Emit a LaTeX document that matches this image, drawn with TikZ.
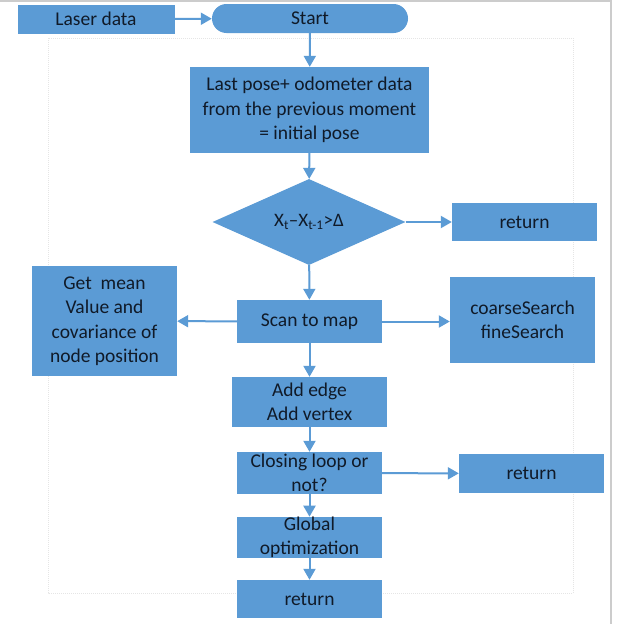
\documentclass[tikz,border=0pt]{standalone}
\usepackage{fontspec}
\setmainfont{Carlito}
\usetikzlibrary{arrows.meta,shapes.geometric}
\definecolor{boxblue}{HTML}{5B9BD5}
\definecolor{txt}{HTML}{101A28}
\begin{document}
\begin{tikzpicture}[x=1pt,y=-1pt,
  box/.style={rectangle,fill=boxblue,draw=none,text=txt,align=center,inner sep=0pt,
    font=\fontsize{19.5}{24.5}\selectfont},
  flow/.style={draw=boxblue,line width=2pt,-{Triangle[length=11pt,width=12pt]}}]
\useasboundingbox (0,0) rectangle (618,624);
\fill[white] (0,0) rectangle (618,624);
\draw[gray!40,line width=1.5pt] (0,1) -- (611,1) -- (611,624);
\draw[gray!20,line width=1pt,densely dotted] (48,38) rectangle (573,593);
% nodes
\node[box,minimum width=157pt,minimum height=29pt] (laser) at (96,19) {Laser data};
\node[box,minimum width=196pt,minimum height=29pt,rounded corners=14.5pt] (start) at (310,18.5) {Start};
\node[box,minimum width=239pt,minimum height=86pt] (pose) at (309.5,110) {Last pose+ odometer data\\from the previous moment\\= initial pose};
\node[diamond,fill=boxblue,text=txt,inner sep=0pt,minimum width=193pt,minimum height=86pt,
  font=\fontsize{19}{22}\selectfont] (dia) at (309,222) {X\textsubscript{t}–X\textsubscript{t-1}>Δ};
\node[box,minimum width=145pt,minimum height=38pt] (ret1) at (524.5,222) {return};
\node[box,minimum width=145pt,minimum height=110pt] (mean) at (104.5,321) {Get\ \ mean\\Value and\\covariance of\\node position};
\node[box,minimum width=145pt,minimum height=43pt] (scan) at (309.5,321.5) {Scan to map};
\node[box,minimum width=145pt,minimum height=86pt] (coarse) at (522.5,320) {coarseSearch\\fineSearch};
\node[box,minimum width=155pt,minimum height=50pt] (edge) at (309.5,402) {Add edge\\Add vertex};
\node[box,minimum width=145pt,minimum height=42pt] (loop) at (309.5,473) {Closing loop or\\not?};
\node[box,minimum width=145pt,minimum height=39pt] (ret2) at (531.5,473.5) {return};
\node[box,minimum width=145pt,minimum height=41pt] (glob) at (309.5,537.5) {Global\\optimization};
\node[box,minimum width=145pt,minimum height=38pt] (ret3) at (309.5,599) {return};
% connectors
\draw[flow] (laser) -- (start);
\draw[flow] (start) -- (pose);
\draw[flow] (pose) -- (dia);
\draw[flow] (dia) -- (ret1);
\draw[flow] (dia) -- (scan);
\draw[flow] (scan) -- (mean);
\draw[flow] (scan.east) -- (coarse.west|-scan.east);
\draw[flow] (scan) -- (edge);
\draw[flow] (edge) -- (loop);
\draw[flow] (loop) -- (ret2);
\draw[flow] (loop) -- (glob);
\draw[flow] (glob) -- (ret3);
\end{tikzpicture}
\end{document}
